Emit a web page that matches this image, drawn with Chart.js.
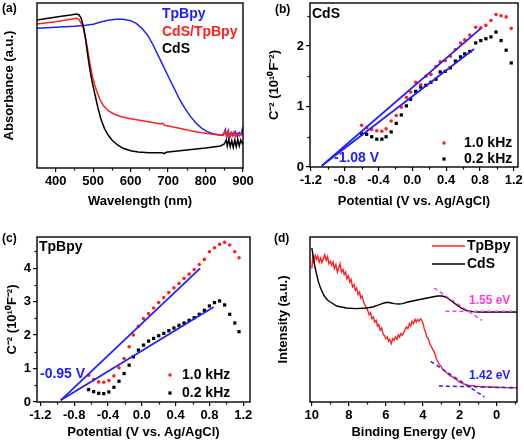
<!DOCTYPE html>
<html><head><meta charset="utf-8">
<script src="https://cdn.jsdelivr.net/npm/chart.js@4"></script>
<style>
html,body{margin:0;padding:0;background:#fff;}
#wrap{position:relative;width:524px;height:444px;overflow:hidden;background:#fff;}
canvas{position:absolute;}
</style></head><body>
<div id="wrap">
<canvas id="ca" width="262" height="222" style="left:0;top:0;width:262px;height:222px"></canvas>
<canvas id="cb" width="262" height="222" style="left:262px;top:0;width:262px;height:222px"></canvas>
<canvas id="cc" width="262" height="222" style="left:0;top:222px;width:262px;height:222px"></canvas>
<canvas id="cd" width="262" height="222" style="left:262px;top:222px;width:262px;height:222px"></canvas>
</div>
<script>
// ---------- Panel (a): UV-vis absorbance (a.u.) ----------
const A_WL_TPBPY = [350,400,450,480,500,520,540,560,580,600,615,630,645,660,675,690,700,715,730,745,760,775,790,805,820,835,848,853,857,861,865,870,875,880,885,890,895,898,900];
const A_TPBPY    = [419,422,425,428,431,438,443,446,446,442,434,419,399,369,334,299,276,242,207,179,154,134,119,109,103,100,99,116,94,112,92,106,98,109,94,106,100,116,106];
const A_WL_MIX = [350,400,440,455,462,468,474,480,486,492,498,504,510,518,528,540,555,575,600,640,680,686,690,700,730,760,790,820,845,852,856,860,864,868,872,876,880,885,890,895,900];
const A_MIX    = [432,439,446,449,446,434,419,389,349,309,274,249,229,206,186,172,162,154,148,140,132,134,128,126,119,112,106,101,98,112,94,109,92,106,96,108,94,104,96,104,99];
const A_WL_CDS = [350,380,420,440,455,462,468,474,480,486,492,498,505,512,520,530,540,550,565,580,600,620,650,685,690,695,700,750,800,840,850,855,858,862,866,870,874,878,882,886,890,894,898,900];
const A_CDS    = [444,449,456,459,462,460,449,424,384,334,289,254,219,184,149,119,99,84,69,59,52,48,46,46,43,47,48,54,60,66,72,84,66,86,64,82,62,84,64,86,66,84,74,79];
const A_XTICKS = [400,500,600,700,800,900];
const A_XMINOR = [450,550,650,750,850];

// ---------- Panel (b): Mott-Schottky CdS ----------
const B_V     = [-0.60,-0.54,-0.48,-0.42,-0.36,-0.31,-0.25,-0.19,-0.13,-0.07,-0.02,0.04,0.10,0.16,0.22,0.28,0.33,0.39,0.45,0.51,0.57,0.62,0.68,0.75,0.81,0.87,0.93,0.99,1.05,1.11,1.17];
const B_1KHZ  = [0.69,0.65,0.62,0.60,0.59,0.63,0.76,0.85,0.99,1.15,1.24,1.40,1.36,1.50,1.53,1.66,1.74,1.76,1.83,1.94,2.05,2.10,2.18,2.31,2.30,2.34,2.42,2.52,2.50,2.48,2.29];
const B_02KHZ = [0.55,0.54,0.50,0.46,0.46,0.50,0.58,0.72,0.86,1.01,1.12,1.25,1.32,1.35,1.40,1.45,1.57,1.58,1.64,1.75,1.82,1.87,1.91,2.05,2.09,2.12,2.15,2.23,2.09,1.93,1.72];
const B_FIT1_V = [-1.07,0.81], B_FIT1 = [0.02,2.29];
const B_FIT2_V = [-1.07,0.73], B_FIT2 = [0.02,1.95];
const B_XTICKS = [-1.2,-0.8,-0.4,0.0,0.4,0.8,1.2];
const B_XMINOR = [-1.0,-0.6,-0.2,0.2,0.6,1.0];
const B_YTICKS = [0,1,2];
const B_YMINOR = [0.5,1.5,2.5];

// ---------- Panel (c): Mott-Schottky TpBpy ----------
const C_V     = [-0.63,-0.57,-0.51,-0.45,-0.39,-0.33,-0.27,-0.21,-0.15,-0.10,-0.04,0.02,0.08,0.14,0.20,0.26,0.32,0.38,0.44,0.50,0.56,0.62,0.68,0.74,0.80,0.86,0.92,0.98,1.04,1.10,1.15];
const C_1KHZ  = [0.80,0.67,0.60,0.59,0.64,0.78,1.02,1.30,1.65,2.00,2.26,2.49,2.64,2.81,2.97,3.12,3.27,3.41,3.54,3.69,3.82,3.96,4.11,4.26,4.49,4.61,4.71,4.77,4.69,4.49,4.31];
const C_02KHZ = [0.37,0.31,0.26,0.25,0.30,0.44,0.62,0.85,1.10,1.35,1.55,1.70,1.82,1.90,1.98,2.05,2.13,2.21,2.29,2.36,2.44,2.52,2.62,2.74,2.87,2.97,3.02,2.90,2.62,2.36,2.10];
const C_FIT1_V = [-0.96,0.69], C_FIT1 = [0.05,3.99];
const C_FIT2_V = [-0.96,0.85], C_FIT2 = [0.05,2.84];
const C_XTICKS = [-1.2,-0.8,-0.4,0.0,0.4,0.8,1.2];
const C_XMINOR = [-1.0,-0.6,-0.2,0.2,0.6,1.0];
const C_YTICKS = [0,1,2,3,4];
const C_YMINOR = [0.5,1.5,2.5,3.5,4.5];

// ---------- Panel (d): VB-XPS intensity (a.u.) ----------
const D_BE_TPBPY = [10.00,9.95,9.90,9.82,9.75,9.68,9.60,9.52,9.45,9.38,9.30,9.22,9.15,9.08,9.00,8.92,8.85,8.78,8.70,8.62,8.55,8.47,8.40,8.32,8.25,8.17,8.10,8.02,7.95,7.88,7.80,7.72,7.65,7.58,7.50,7.42,7.35,7.28,7.20,7.12,7.05,6.98,6.90,6.82,6.75,6.68,6.60,6.52,6.45,6.38,6.30,6.22,6.15,6.08,6.00,5.92,5.85,5.78,5.70,5.62,5.55,5.48,5.40,5.32,5.25,5.18,5.10,5.02,4.95,4.88,4.80,4.72,4.65,4.58,4.50,4.42,4.35,4.28,4.20,4.12,4.05,3.98,3.92,3.85,3.78,3.70,3.62,3.55,3.48,3.40,3.32,3.25,3.18,3.10,3.02,2.95,2.85,2.75,2.65,2.55,2.45,2.35,2.25,2.15,2.05,1.95,1.85,1.75,1.65,1.55,1.45,1.35,1.25,1.10,0.95,0.80,0.60,0.40,0.20,0.00,-0.20,-0.40,-0.60,-0.80,-1.00,-1.10];
const D_TPBPY    = [400,435,422,440,428,438,420,432,418,430,442,425,436,415,422,410,420,400,412,390,402,415,390,398,382,390,370,378,360,368,345,352,335,342,322,330,312,318,300,290,282,275,262,268,250,255,240,245,228,232,215,222,205,200,190,195,182,188,175,190,185,195,188,202,195,205,200,210,218,225,220,235,228,242,235,248,240,248,242,250,245,235,220,210,195,190,175,168,160,152,140,128,122,112,108,100,95,90,85,80,77,74,70,66,62,58,55,54,52,50,50,48,49,47,47,45,46,44,45,43,44,43,43,42,43,43];
const D_BE_CDS = [10.00,9.95,9.91,9.82,9.73,9.64,9.55,9.42,9.29,9.15,9.00,8.66,8.13,7.60,7.05,6.70,6.34,6.10,5.90,5.70,5.54,5.30,5.10,4.80,4.55,4.30,4.02,3.75,3.48,3.20,2.95,2.77,2.59,2.41,2.23,2.05,1.88,1.70,1.52,1.30,0.98,0.50,0.09,-0.50,-1.10];
const D_CDS    = [462,445,430,402,380,360,345,328,315,306,300,288,282,280,282,285,292,297,299,297,295,294,295,300,303,306,309,312,315,318,318,315,309,302,294,287,281,276,273,271,270,270,270,270,270];
const D_CDS_TAN_BE = [3.39,0.80],  D_CDS_TAN = [342,245];
const D_CDS_BASE_BE = [2.77,-1.10], D_CDS_BASE = [272,272];
const D_TP_TAN_BE = [3.57,0.66],   D_TP_TAN = [122,15];
const D_TP_BASE_BE = [3.125,-1.10], D_TP_BASE = [48,43];
const D_XTICKS = [10,8,6,4,2,0];
const D_XMINOR = [9,7,5,3,1,-1];

// ---------- styling ----------
const RED = '#ff2020', BLUE = '#2020ff', BLACK = '#000000', MAG = '#ff3cd2';
const FONT = '"Liberation Sans", Arial, Helvetica, sans-serif';
Chart.defaults.font.family = FONT;
Chart.defaults.font.weight = 'bold';
Chart.defaults.font.size = 13;
Chart.defaults.color = '#000';

function xy(xs, ys){ return xs.map((x,i)=>({x:x, y:ys[i]})); }
function lineDs(xs, ys, color, w, dash){
  return {data:xy(xs,ys), showLine:true, borderColor:color, borderWidth:w, borderDash:dash||[], pointRadius:0, pointHoverRadius:0, fill:false, tension:0};
}
function ptDs(xs, ys, color, style, r){
  return {data:xy(xs,ys), showLine:false, backgroundColor:color, borderColor:color, borderWidth:0, pointBorderWidth:0, pointStyle:style, pointRadius:r, pointHoverRadius:r};
}
function mkAxis(o){
  const hasTicks = !!(o.ticks && o.ticks.length);
  return {
    type:'linear', min:o.min, max:o.max, reverse:!!o.reverse, position:o.position,
    afterFit: s => { if (s.isHorizontal()) s.height = o.size; else s.width = o.size;
      s.paddingLeft = 0; s.paddingRight = 0; s.paddingTop = 0; s.paddingBottom = 0; },
    afterBuildTicks: s => { s.ticks = (o.ticks||[]).map(v=>({value:v})); },
    ticks:{display:hasTicks, padding:2, color:'#000', font:{size:13, weight:'bold'}, autoSkip:false, maxRotation:0, minRotation:0,
      callback: v => o.fmt ? o.fmt(v) : String(v)},
    grid:{display:hasTicks, drawOnChartArea:false, drawTicks:true, tickLength:4, color:'#000', lineWidth:1.2},
    border:{display:false},
    title:{display:true, text:o.title, color:'#000', font:{size:13, weight:'bold'}, padding:o.tpad}
  };
}
const deco = {
  id:'deco',
  afterDraw(chart, args, opts){
    const ctx = chart.ctx, a = chart.chartArea, sx = chart.scales.x, sy = chart.scales.y;
    ctx.save();
    ctx.strokeStyle = '#000'; ctx.lineWidth = 1.2;
    (opts.minorX||[]).forEach(v => { const x = Math.round(sx.getPixelForValue(v)) + 0.5;
      ctx.beginPath(); ctx.moveTo(x, a.bottom); ctx.lineTo(x, a.bottom + 2.5); ctx.stroke(); });
    (opts.minorY||[]).forEach(v => { const y = Math.round(sy.getPixelForValue(v)) + 0.5;
      ctx.beginPath(); ctx.moveTo(a.left, y); ctx.lineTo(a.left - 2.5, y); ctx.stroke(); });
    ctx.lineWidth = 1.4;
    ctx.strokeRect(a.left, a.top, a.right - a.left, a.bottom - a.top);
    (opts.lines||[]).forEach(l => { ctx.strokeStyle = l.c; ctx.lineWidth = 1.6; ctx.setLineDash([]);
      ctx.beginPath(); ctx.moveTo(l.x1, l.y); ctx.lineTo(l.x2, l.y); ctx.stroke(); });
    (opts.markers||[]).forEach(m => { ctx.fillStyle = m.c; ctx.beginPath();
      if (m.shape === 'circle') { ctx.arc(m.x, m.y, m.r, 0, Math.PI*2); } else { ctx.rect(m.x - m.r, m.y - m.r, 2*m.r, 2*m.r); }
      ctx.fill(); });
    (opts.texts||[]).forEach(t => { ctx.font = 'bold ' + t.s + 'px ' + FONT; ctx.fillStyle = t.c || '#000';
      ctx.textAlign = 'left'; ctx.textBaseline = 'middle'; ctx.fillText(t.t, t.x, t.y); });
    ctx.restore();
  }
};
function panel(id, o){
  return new Chart(document.getElementById(id), {
    type:'scatter',
    data:{datasets:o.datasets},
    options:{
      responsive:false, animation:false, devicePixelRatio:1, maintainAspectRatio:false,
      layout:{padding:o.pad},
      plugins:{legend:{display:false}, tooltip:{enabled:false}, deco:o.deco},
      scales:{x:mkAxis(o.x), y:mkAxis(o.y)}
    },
    plugins:[deco]
  });
}
const f1 = v => v.toFixed(1);
const SUPTITLE = 'C\u207B\u00B2 (10\u00B9\u2070F\u207B\u00B2)';

// (a)
panel('ca', {
  pad:{left:0, right:19, top:3, bottom:0},
  datasets:[
    lineDs(A_WL_CDS, A_CDS, BLACK, 1.5),
    lineDs(A_WL_MIX, A_MIX, RED, 1.5),
    lineDs(A_WL_TPBPY, A_TPBPY, BLUE, 1.5)
  ],
  x:{min:350, max:900, ticks:A_XTICKS, size:54, title:'Wavelength (nm)', tpad:{top:0,bottom:13}},
  y:{min:0, max:495, ticks:[], size:37, title:'Absorbance (a.u.)', tpad:{top:2,bottom:0}, position:'left'},
  deco:{minorX:A_XMINOR, texts:[
    {t:'(a)', x:2, y:9, s:12},
    {t:'TpBpy', x:162, y:14, s:14, c:BLUE},
    {t:'CdS/TpBpy', x:162, y:32, s:14, c:RED},
    {t:'CdS', x:162, y:49, s:14}
  ]}
});
// (b)
panel('cb', {
  pad:{left:0, right:6, top:3, bottom:0},
  datasets:[
    lineDs(B_FIT1_V, B_FIT1, BLUE, 1.8),
    lineDs(B_FIT2_V, B_FIT2, BLUE, 1.8),
    ptDs(B_V, B_1KHZ, RED, 'circle', 1.8),
    ptDs(B_V, B_02KHZ, BLACK, 'rect', 2.3)
  ],
  x:{min:-1.21, max:1.25, ticks:B_XTICKS, fmt:f1, size:55, title:'Potential (V vs. Ag/AgCl)', tpad:{top:0,bottom:13}},
  y:{min:0, max:2.71, ticks:B_YTICKS, size:48, title:SUPTITLE, tpad:{top:5,bottom:0}, position:'left'},
  deco:{minorX:B_XMINOR, minorY:B_YMINOR,
    markers:[{shape:'circle', x:182, y:143, r:1.8, c:RED},{shape:'rect', x:182, y:159, r:1.6, c:BLACK}],
    texts:[
    {t:'(b)', x:13, y:9.5, s:12},
    {t:'CdS', x:50, y:14, s:14},
    {t:'-1.08 V', x:72, y:158, s:14, c:BLUE},
    {t:'1.0 kHz', x:202, y:143, s:14},
    {t:'0.2 kHz', x:202, y:159, s:14}
  ]}
});
// (c)
panel('cc', {
  pad:{left:0, right:12, top:15, bottom:0},
  datasets:[
    lineDs(C_FIT1_V, C_FIT1, BLUE, 1.8),
    lineDs(C_FIT2_V, C_FIT2, BLUE, 1.8),
    ptDs(C_V, C_1KHZ, RED, 'circle', 1.8),
    ptDs(C_V, C_02KHZ, BLACK, 'rect', 2.3)
  ],
  x:{min:-1.24, max:1.28, ticks:C_XTICKS, fmt:f1, size:42, title:'Potential (V vs. Ag/AgCl)', tpad:{top:0,bottom:4}},
  y:{min:0, max:4.93, ticks:C_YTICKS, size:37, title:SUPTITLE, tpad:{top:5,bottom:0}, position:'left'},
  deco:{minorX:C_XMINOR, minorY:C_YMINOR,
    markers:[{shape:'circle', x:170, y:153, r:1.8, c:RED},{shape:'rect', x:170, y:171, r:1.6, c:BLACK}],
    texts:[
    {t:'(c)', x:2, y:17, s:12},
    {t:'TpBpy', x:39, y:25, s:14},
    {t:'-0.95 V', x:40, y:152, s:14, c:BLUE},
    {t:'1.0 kHz', x:182, y:153, s:14},
    {t:'0.2 kHz', x:182, y:171, s:14}
  ]}
});
// (d)
panel('cd', {
  pad:{left:0, right:7, top:15, bottom:0},
  datasets:[
    lineDs(D_CDS_TAN_BE, D_CDS_TAN, MAG, 1.5, [4,3]),
    lineDs(D_CDS_BASE_BE, D_CDS_BASE, MAG, 1.5, [4,3]),
    lineDs(D_TP_TAN_BE, D_TP_TAN, BLUE, 1.5, [4,3]),
    lineDs(D_TP_BASE_BE, D_TP_BASE, BLUE, 1.5, [4,3]),
    lineDs(D_BE_CDS, D_CDS, BLACK, 1.4),
    lineDs(D_BE_TPBPY, D_TPBPY, RED, 1.4)
  ],
  x:{min:-1.1, max:10.1, reverse:true, ticks:D_XTICKS, size:42, title:'Binding Energy (eV)', tpad:{top:0,bottom:4}},
  y:{min:0, max:495, ticks:[], size:48, title:'Intensity (a.u.)', tpad:{top:14,bottom:0}, position:'left'},
  deco:{minorX:D_XMINOR,
    lines:[{x1:170, x2:203, y:24, c:RED},{x1:170, x2:203, y:42, c:BLACK}],
    texts:[
    {t:'(d)', x:12, y:17, s:12},
    {t:'TpBpy', x:205, y:24, s:14},
    {t:'CdS', x:205, y:42, s:14},
    {t:'1.55 eV', x:207, y:79, s:12, c:MAG},
    {t:'1.42 eV', x:207, y:154, s:12, c:BLUE}
  ]}
});
</script>
</body></html>
